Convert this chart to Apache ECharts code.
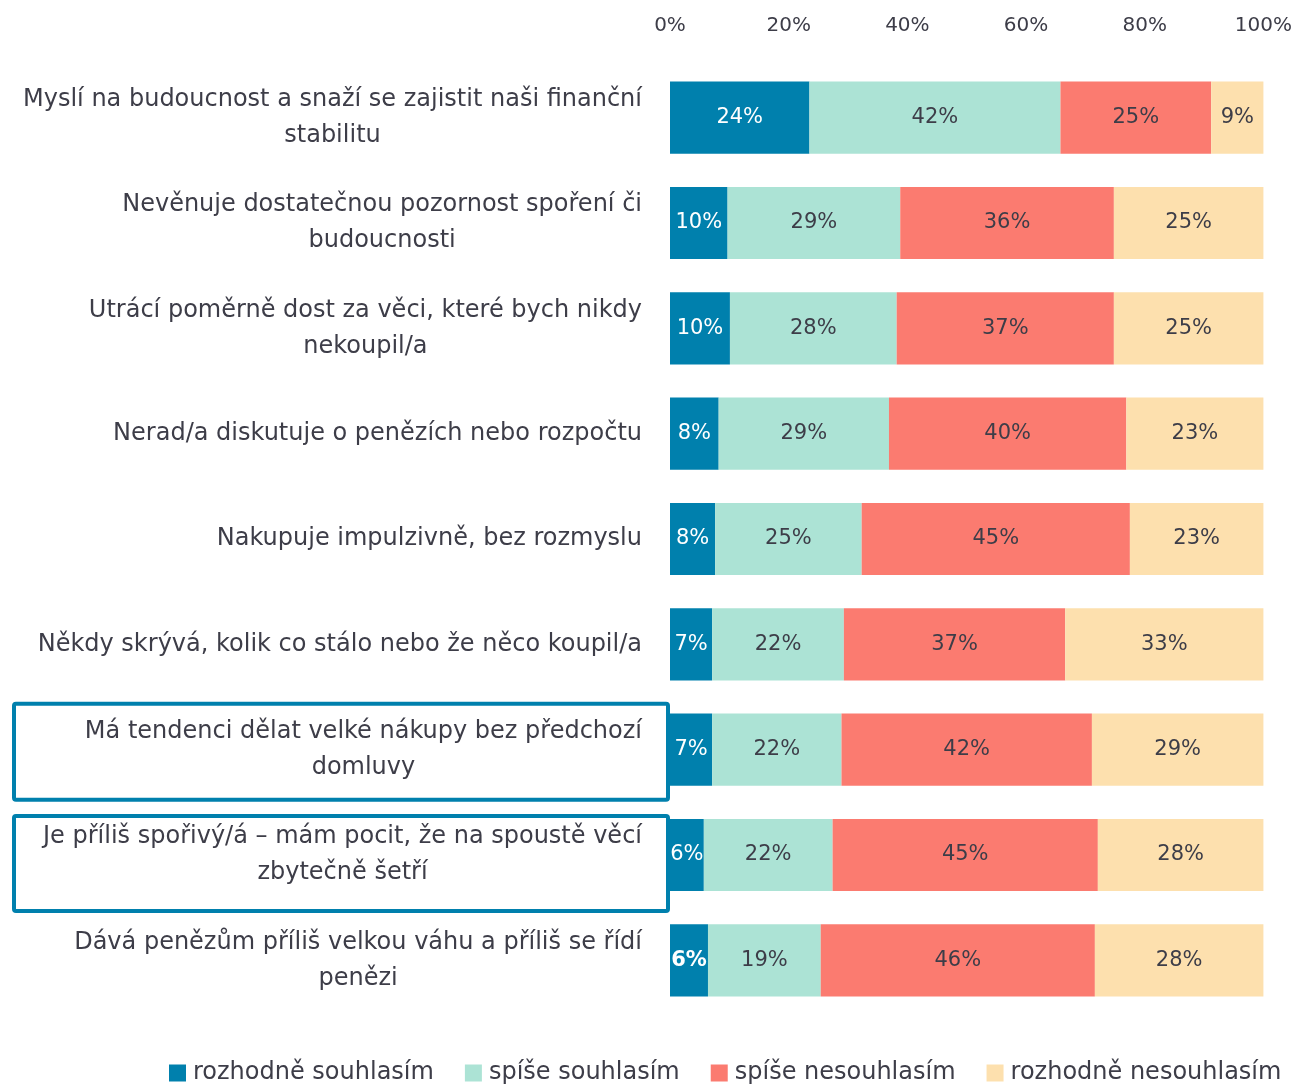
<!DOCTYPE html>
<html>
<head>
<meta charset="utf-8">
<script src="https://cdn.jsdelivr.net/npm/echarts@6/dist/echarts.min.js"></script>
<style>html,body{margin:0;padding:0;background:#fff}#c{width:1295px;height:1084px}</style>
</head>
<body>
<div id="c"></div>
<script>
var categories = [
  'Myslí na budoucnost a snaží se zajistit naši finanční\nstabilitu',
  'Nevěnuje dostatečnou pozornost spoření či\nbudoucnosti',
  'Utrácí poměrně dost za věci, které bych nikdy\nnekoupil/a',
  'Nerad/a diskutuje o penězích nebo rozpočtu',
  'Nakupuje impulzivně, bez rozmyslu',
  'Někdy skrývá, kolik co stálo nebo že něco koupil/a',
  'Má tendenci dělat velké nákupy bez předchozí\ndomluvy',
  'Je příliš spořivý/á – mám pocit, že na spoustě věcí\nzbytečně šetří',
  'Dává penězům příliš velkou váhu a příliš se řídí\npenězi'
];
var seriesNames = ['rozhodně souhlasím', 'spíše souhlasím', 'spíše nesouhlasím', 'rozhodně nesouhlasím'];
var strongAgree    = [23.5, 9.7, 10.1, 8.2, 7.6, 7.1, 7.1, 5.7, 6.4];
var agree          = [42.3, 29.1, 28.1, 28.7, 24.7, 22.2, 21.8, 21.7, 19.0];
var disagree       = [25.4, 36.0, 36.6, 40.0, 45.2, 37.3, 42.2, 44.7, 46.2];
var strongDisagree = [8.8, 25.2, 25.2, 23.1, 22.5, 33.4, 28.9, 27.9, 28.4];
var xTicks = [0, 20, 40, 60, 80, 100];
var highlighted = [6, 7];

var colors = ['#0080ad', '#ace3d5', '#fb7b70', '#fde0ae'];
var textColor = '#3d3d48';
var fontFamily = '"DejaVu Sans", "Open Sans", sans-serif';
var dataSets = [strongAgree, agree, disagree, strongDisagree];

var chart = echarts.init(document.getElementById('c'), null, {renderer: 'canvas'});

var series = dataSets.map(function (arr, i) {
  return {
    name: seriesNames[i],
    type: 'bar',
    stack: 'total',
    barCategoryGap: '31.5%',
    data: arr.map(function (v, j) {
      var d = {value: v};
      if (i === 0 && j === 8) d.label = {fontWeight: 'bold'};
      return d;
    }),
    itemStyle: {color: colors[i]},
    label: {
      show: true,
      position: 'inside',
      color: i === 0 ? '#ffffff' : textColor,
      fontSize: 21,
      fontFamily: fontFamily,
      formatter: function (p) { return Math.round(p.value) + '%'; }
    }
  };
});

var option = {
  animation: false,
  backgroundColor: '#ffffff',
  color: colors,
  grid: {left: 670, right: 30, top: 65, bottom: 71, containLabel: false},
  xAxis: {
    type: 'value',
    position: 'top',
    min: 0,
    max: 100,
    interval: 20,
    axisLine: {show: false},
    axisTick: {show: false},
    splitLine: {show: false},
    axisLabel: {
      color: textColor,
      fontSize: 20,
      fontFamily: fontFamily,
      margin: 29,
      formatter: function (v) { return xTicks.indexOf(v) >= 0 ? v + '%' : ''; }
    }
  },
  yAxis: {
    type: 'category',
    inverse: true,
    data: categories,
    axisLine: {show: false},
    axisTick: {show: false},
    axisLabel: {
      color: textColor,
      fontSize: 24,
      fontFamily: fontFamily,
      align: 'right',
      lineHeight: 36,
      margin: 28,
      formatter: function (v) {
        return v.split('\n').map(function (s) { return '{c|' + s + '}'; }).join('\n');
      },
      rich: {
        c: {align: 'center', color: textColor, fontSize: 24, fontFamily: fontFamily, lineHeight: 36}
      }
    }
  },
  legend: {
    bottom: -6,
    left: 164,
    itemWidth: 17,
    itemHeight: 17,
    itemGap: 31,
    icon: 'rect',
    textStyle: {color: textColor, fontSize: 24, fontFamily: fontFamily, padding: [0, 0, 0, 2]},
    data: seriesNames
  },
  series: series
};
chart.setOption(option);

var offs = [[-48, 52], [-41, 58]];
var graphics = highlighted.map(function (idx, k) {
  var cy = chart.convertToPixel({yAxisIndex: 0}, idx);
  var top = cy + offs[k][0] + 2, bot = cy + offs[k][1] - 2;
  return {
    type: 'rect',
    shape: {x: 14, y: top, width: 670 - 14 - 2, height: bot - top, r: 2},
    style: {fill: 'none', stroke: '#0080ad', lineWidth: 4},
    z: 100
  };
});
chart.setOption({graphic: graphics});
</script>
</body>
</html>
